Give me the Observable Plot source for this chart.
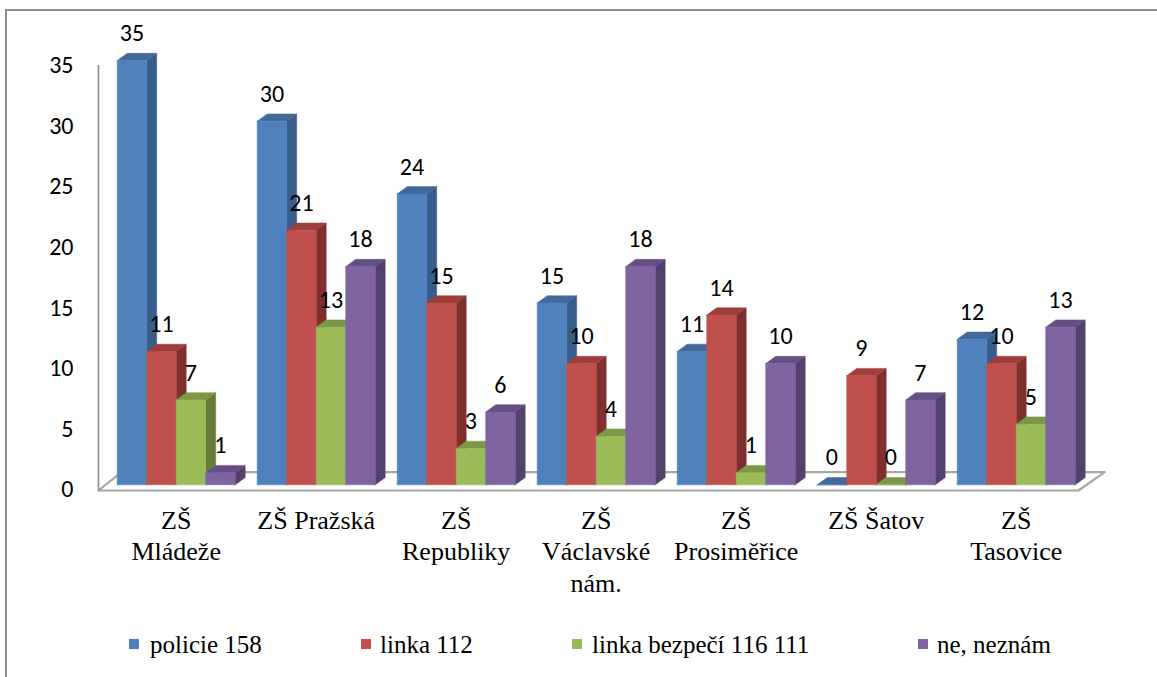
<!DOCTYPE html>
<html><head><meta charset="utf-8">
<script src="https://cdn.jsdelivr.net/npm/d3@7"></script>
<script src="https://cdn.jsdelivr.net/npm/@observablehq/plot@0.6"></script>
<style>
body{margin:0;background:#fff;}
#wrap{position:relative;width:1157px;height:677px;overflow:hidden;background:#fff;}
#frameTop{position:absolute;left:5px;top:9px;width:1152px;height:2px;background:#8e8e8e;}
#frameLeft{position:absolute;left:5px;top:9px;width:2px;height:668px;background:#8e8e8e;}
#chart{position:absolute;left:0;top:0;}
#legend{position:absolute;top:628px;left:0;width:1157px;height:36px;font-family:"Liberation Serif","Times New Roman",serif;font-size:25px;color:#000;}
.item{position:absolute;top:0;white-space:nowrap;line-height:34px;}
.sw{position:absolute;top:11px;width:10px;height:10px;}
</style>
</head><body>
<div id="wrap">
  <div id="chart"></div>
  <div id="legend"></div>
  <div id="frameTop"></div>
  <div id="frameLeft"></div>
</div>
<script>
// ---- data ----
const categories = ["ZŠ\nMládeže", "ZŠ Pražská", "ZŠ\nRepubliky", "ZŠ\nVáclavské\nnám.", "ZŠ\nProsiměřice", "ZŠ Šatov", "ZŠ\nTasovice"];
const seriesNames = ["policie 158", "linka 112", "linka bezpečí 116 111", "ne, neznám"];
const policie = [35, 30, 24, 15, 11, 0, 12];
const linka112 = [11, 21, 15, 10, 14, 9, 10];
const bezpeci = [7, 13, 3, 4, 1, 0, 5];
const neznam = [1, 18, 6, 18, 10, 7, 13];
const yTicks = [0, 5, 10, 15, 20, 25, 30, 35];
const frontColors = ["#4F81BD", "#C0504D", "#9BBB59", "#8064A2"];
const sideColors = ["#385D8A", "#7F302E", "#677D39", "#53406B"];
const topColors = ["#42699A", "#9E3E3B", "#7C9747", "#664F85"];

// ---- layout constants (style, not data) ----
const BARPX = 29.5, UNITPX = 12.12;
const GAP = 22 / BARPX;
const GROUP = seriesNames.length + GAP;
const DX = 10 / BARPX, DY = 7.3 / UNITPX;
const xMax = categories.length * GROUP;
const x0px = 116.7, y0px = 484.3;
const NUMFONT = "Carlito, Calibri, Lato, sans-serif";
const SERIF = "'Liberation Serif', 'Times New Roman', serif";

const seriesValues = [policie, linka112, bezpeci, neznam];

// build 3D faces from the data
const faces = [];
const labels = [];
categories.forEach((c, i) => {
  seriesValues.forEach((vals, j) => {
    const v = vals[i];
    const xa = i * GROUP + j, xb = xa + 1;
    const id = i + "-" + j;
    const poly = (name, pts, color) =>
      pts.concat([pts[0]]).forEach(([x, y]) => faces.push({id: id + name, x, y, color}));
    poly("s", [[xb, 0], [xb + DX, DY], [xb + DX, v + DY], [xb, v]], sideColors[j]);
    poly("t", [[xa, v], [xa + DX, v + DY], [xb + DX, v + DY], [xb, v]], topColors[j]);
    poly("f", [[xa, 0], [xb, 0], [xb, v], [xa, v]], frontColors[j]);
    labels.push({x: xa + 0.5, v});
  });
});

const axisX = -18.7 / BARPX;
const floorFront = -5.7 / UNITPX, floorBack = 12.6 / UNITPX;
const lastRight = xMax - GAP;
const floor = [
  {x: axisX, y: floorFront},
  {x: 4.3 / BARPX, y: floorBack},
  {x: lastRight + 1.0, y: floorBack},
  {x: lastRight + 0.11, y: floorFront},
  {x: axisX, y: floorFront}
];

const chart = Plot.plot({
  width: 1157,
  height: 620,
  x: {domain: [0, xMax], range: [x0px, x0px + xMax * BARPX], axis: null},
  y: {domain: [0, 35], range: [y0px, y0px - 35 * UNITPX], axis: null},
  color: {type: "identity"},
  style: {background: "transparent", overflow: "visible"},
  marks: [
    Plot.line(floor, {x: "x", y: "y", fill: "white", stroke: "#a6a6a6", strokeWidth: 2.2}),
    Plot.ruleX([axisX], {y1: floorFront, y2: 34.6, stroke: "#8c8c8c", strokeWidth: 1.6}),
    Plot.line(faces, {x: "x", y: "y", z: "id", fill: "color", stroke: "color", strokeWidth: 0.5, curve: "linear"}),
    Plot.text(labels, {x: "x", y: "v", text: d => String(d.v), dy: -27, fontSize: 24, fontFamily: NUMFONT, fill: "#000"}),
    Plot.text(yTicks, {x: () => axisX, y: d => d, text: d => String(d), textAnchor: "end", dx: -25, dy: 5, fontSize: 24, fontFamily: NUMFONT, fill: "#000"}),
    Plot.text(categories, {x: (d, i) => i * GROUP + 2, y: () => 0, text: d => d, lineAnchor: "top", dy: 21, lineHeight: 1.23, fontSize: 26, fontFamily: SERIF, fill: "#000"})
  ]
});
document.getElementById("chart").appendChild(chart);

// legend
const legendPos = [[129, 150], [361, 380], [572, 592], [918, 937]];
const leg = document.getElementById("legend");
seriesNames.forEach((name, j) => {
  const sw = document.createElement("div");
  sw.className = "sw";
  sw.style.left = legendPos[j][0] + "px";
  sw.style.background = frontColors[j];
  leg.appendChild(sw);
  const t = document.createElement("div");
  t.className = "item";
  t.style.left = legendPos[j][1] + "px";
  t.textContent = name;
  leg.appendChild(t);
});
</script>
</body></html>
